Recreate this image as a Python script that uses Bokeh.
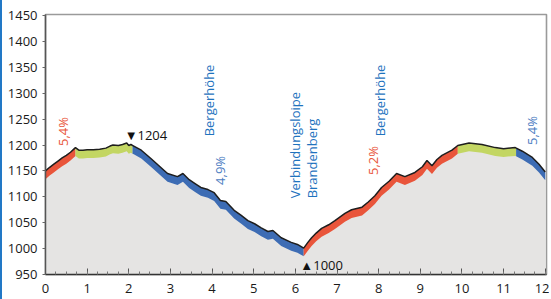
import numpy as np
from bokeh.plotting import figure
from bokeh.models import Range1d, FixedTicker
from bokeh.core.properties import value
from bokeh.embed import file_html
from bokeh.resources import INLINE

# ---- data ----
km = [0, 0.1, 0.2, 0.3, 0.4, 0.5, 0.6, 0.68, 0.72, 0.8, 0.9, 1.0, 1.15, 1.3, 1.45,
      1.55, 1.62, 1.75, 1.85, 1.95, 2.0, 2.05, 2.12, 2.3, 2.53, 2.75, 2.93, 3.17,
      3.3, 3.45, 3.6, 3.73, 3.9, 4.05, 4.2, 4.33, 4.53, 4.7, 4.86, 5.02, 5.18, 5.34,
      5.46, 5.66, 5.9, 6.05, 6.2, 6.3, 6.39, 6.5, 6.63, 6.8, 6.95, 7.19, 7.35, 7.5,
      7.6, 7.75, 7.91, 8.07, 8.25, 8.43, 8.63, 8.87, 9.05, 9.16, 9.28, 9.4, 9.52,
      9.76, 9.9, 10.17, 10.48, 10.8, 11.0, 11.28, 11.45, 11.69, 11.85, 12.0]
elev = [1150, 1157, 1163, 1169, 1175, 1180, 1186, 1192, 1195, 1190, 1190, 1191, 1191,
        1192, 1194, 1198, 1200, 1199, 1201, 1204, 1199, 1201, 1198, 1190, 1174, 1158,
        1145, 1139, 1145, 1133, 1125, 1118, 1114, 1108, 1093, 1091, 1074, 1064, 1054,
        1048, 1040, 1033, 1035, 1021, 1012, 1008, 1001, 1012, 1021, 1030, 1039, 1046,
        1054, 1068, 1075, 1078, 1080, 1090, 1102, 1118, 1130, 1145, 1139, 1147, 1158,
        1170, 1160, 1172, 1180, 1190, 1199, 1204, 1201, 1195, 1193, 1195, 1188, 1176,
        1163, 1148]
seg_bounds = [0, 0.72, 2.09, 6.2, 9.9, 11.3, 12.0]
seg_colors = ["#E9553B", "#C3D663", "#3D6CB4", "#E9553B", "#C3D663", "#3D6CB4"]
band = 16

x_ticks = list(range(0, 13))
y_ticks = list(range(950, 1451, 50))

labels = [
    # text, x, y, color, align
    ("5,4%", 0.41, 1226, "#E9553B", "center"),
    ("Bergerhöhe", 3.92, 1286, "#1F73BE", "center"),
    ("4,9%", 4.19, 1151, "#4D7DC2", "center"),
    ("Verbindungsloipe", 5.99, 1097, "#1F73BE", "left"),
    ("Brandenberg", 6.41, 1097, "#1F73BE", "left"),
    ("5,2%", 7.86, 1170, "#E9553B", "center"),
    ("Bergerhöhe", 8.02, 1286, "#1F73BE", "center"),
    ("5,4%", 11.69, 1228, "#4D7DC2", "center"),
]
marks = [("▼1204", 1.9, 1220), ("▲1000", 6.12, 969)]

FONT = "Open Sans"

p = figure(width=549, height=299, output_backend="svg", toolbar_location=None,
           x_range=Range1d(0, 12.03), y_range=Range1d(950, 1452),
           min_border_left=43, min_border_right=5, min_border_top=14, min_border_bottom=25)
p.styles = {"border-left": "2px solid #2278C6"}
p.background_fill_color = "white"
p.border_fill_color = "white"
p.grid.visible = False
p.outline_line_color = "#9a9a9a"
p.outline_line_width = 1.6

kx = np.array(km, dtype=float)
ky = np.array(elev, dtype=float)

# gray terrain
p.varea(x=kx, y1=950, y2=ky, fill_color="#E5E4E3")

# coloured gradient bands
for a, b, c in zip(seg_bounds[:-1], seg_bounds[1:], seg_colors):
    inner = kx[(kx > a) & (kx < b)]
    xs = np.concatenate([[a], inner, [b]])
    ys = np.interp(xs, kx, ky)
    p.varea(x=xs, y1=ys - band, y2=ys, fill_color=c)

# outline
p.line(kx, ky, line_color="#1e1e1e", line_width=1.5)

for t, x, y, col, al in labels:
    p.text(x=[x], y=[y], text=[t], angle=np.pi / 2, text_color=col,
           text_align=al, text_baseline="middle", text_font=value(FONT),
           text_font_size="13px")
for t, x, y in marks:
    p.text(x=[x], y=[y], text=[t], text_color="#111111", text_align="left",
           text_baseline="middle", text_font=value(FONT), text_font_size="13px")

# axes
xa = p.xaxis[0]
xa.ticker = FixedTicker(ticks=x_ticks, minor_ticks=list(np.arange(0, 12.01, 0.25)))
xa.major_tick_in = 6
xa.major_tick_out = 0
xa.minor_tick_in = 3
xa.minor_tick_out = 0
xa.major_tick_line_color = "#555555"
xa.minor_tick_line_color = "#777777"
xa.axis_line_color = "#333333"
xa.axis_line_width = 1.5
xa.major_label_standoff = 9
xa.major_label_text_font = FONT
xa.major_label_text_font_size = "13px"
xa.major_label_text_color = "#1a1a1a"

ya = p.yaxis[0]
ya.ticker = FixedTicker(ticks=y_ticks)
ya.major_tick_in = 0
ya.major_tick_out = 3
ya.minor_tick_line_color = None
ya.major_tick_line_color = "#666666"
ya.axis_line_color = "#555555"
ya.axis_line_width = 1.5
ya.major_label_standoff = 5
ya.major_label_text_font = FONT
ya.major_label_text_font_size = "13px"
ya.major_label_text_color = "#1a1a1a"

open("out.html", "w").write(file_html(p, INLINE))
